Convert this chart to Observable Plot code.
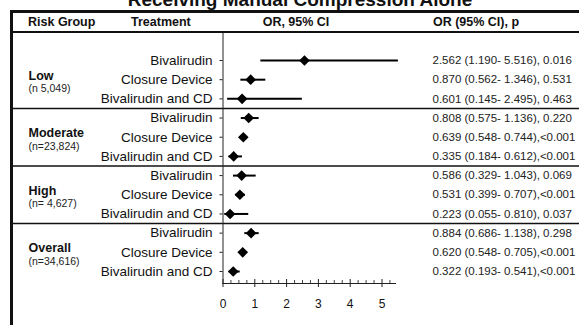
<!DOCTYPE html>
<html>
<head>
<meta charset="utf-8">
<script src="https://cdn.jsdelivr.net/npm/d3@7"></script>
<script src="https://cdn.jsdelivr.net/npm/@observablehq/plot@0.6"></script>
<style>
  html, body { margin: 0; padding: 0; background: #fff; }
  #wrap { position: relative; width: 579px; height: 325px; overflow: hidden; font-family: "Liberation Sans", Arial, sans-serif; color: #111; }
  #title { position: absolute; left: 0; width: 600px; top: -10px; text-align: center; font-weight: bold; font-size: 19px; line-height: 20px; }
  .hline { position: absolute; left: 10px; right: 0; background: #111; }
  #vline { position: absolute; left: 10px; top: 10px; bottom: 0; width: 3px; background: #111; }
  .hdr { position: absolute; top: 15px; font-weight: bold; font-size: 12.5px; line-height: 14px; white-space: nowrap; }
  #chart { position: absolute; left: 0; top: 33px; }
</style>
</head>
<body>
<div id="wrap">
  <div id="title">Receiving Manual Compression Alone</div>
  <div class="hline" style="top:10px;height:2.5px"></div>
  <div class="hline" style="top:31px;height:2px"></div>
  <div id="vline"></div>
  <div class="hdr" style="left:28px">Risk Group</div>
  <div class="hdr" style="left:131px">Treatment</div>
  <div class="hdr" style="left:296px;transform:translateX(-50%)">OR, 95% CI</div>
  <div class="hdr" style="left:476px;transform:translateX(-50%)">OR (95% CI), p</div>
  <div id="chart"></div>
</div>
<script>
const riskGroups = ["Low", "Moderate", "High", "Overall"];
const groupN = ["(n 5,049)", "(n=23,824)", "(n= 4,627)", "(n=34,616)"];
const treatments = ["Bivalirudin", "Closure Device", "Bivalirudin and CD"];
const orValues = [2.562, 0.870, 0.601, 0.808, 0.639, 0.335, 0.586, 0.531, 0.223, 0.884, 0.620, 0.322];
const ciLow    = [1.190, 0.562, 0.145, 0.575, 0.548, 0.184, 0.329, 0.399, 0.055, 0.686, 0.548, 0.193];
const ciHigh   = [5.516, 1.346, 2.495, 1.136, 0.744, 0.612, 1.043, 0.707, 0.810, 1.138, 0.705, 0.541];
const pValues  = ["0.016", "0.531", "0.463", "0.220", "<0.001", "<0.001", "0.069", "<0.001", "0.037", "0.298", "<0.001", "<0.001"];
const xTicks = [0, 1, 2, 3, 4, 5];
const xMinorTicks = [0.25, 0.5, 0.75, 1.25, 1.5, 1.75, 2.25, 2.5, 2.75, 3.25, 3.5, 3.75, 4.25, 4.5, 4.75, 5.25];

const rows = [];
riskGroups.forEach((g, gi) => {
  treatments.forEach((t, ti) => {
    const i = gi * 3 + ti;
    const p = pValues[i];
    rows.push({
      idx: i, group: g, treatment: t,
      or: orValues[i], lo: ciLow[i], hi: ciHigh[i],
      label: `${orValues[i].toFixed(3)} (${ciLow[i].toFixed(3)}- ${ciHigh[i].toFixed(3)}),${p.startsWith("<") ? p : " " + p}`
    });
  });
});
const groups = riskGroups.map((g, gi) => ({name: g, n: groupN[gi], idx: gi * 3 + 1}));
const separators = [2.5, 5.5, 8.5];

const chart = Plot.plot({
  width: 579,
  height: 292,
  marginTop: 0,
  marginBottom: 42,
  marginLeft: 222.5,
  marginRight: 184,
  style: {fontFamily: "'Liberation Sans', Arial, sans-serif", color: "#111", background: "transparent", overflow: "visible"},
  x: {domain: [0, 5], range: [222.5, 381.5], label: null},
  y: {domain: [0, 11], range: [27, 238], label: null},
  marks: [
    Plot.ruleY(separators, {insetLeft: -212.5, insetRight: -184, stroke: "#111", strokeWidth: 1.5}),
    Plot.frame({anchor: "left", stroke: "#222", strokeWidth: 1}),
    Plot.frame({anchor: "bottom", stroke: "#222", strokeWidth: 1}),
    Plot.axisY({anchor: "left", label: null, ticks: d3.range(12), tickSize: 3, tickFormat: () => "", stroke: "#222"}),
    Plot.axisX({anchor: "bottom", label: null, ticks: xTicks, tickSize: 4, tickPadding: 12, fontSize: 12, tickFormat: d => String(d), stroke: "#222"}),
    Plot.axisX({anchor: "bottom", label: null, ticks: xTicks, tickSize: -4, tickFormat: () => "", stroke: "#222"}),
    Plot.axisX({anchor: "bottom", label: null, ticks: xMinorTicks, tickSize: -3, tickFormat: () => "", stroke: "#444"}),
    Plot.ruleY(rows, {y: "idx", x1: "lo", x2: "hi", stroke: "#000", strokeWidth: 2}),
    Plot.dot(rows, {x: "or", y: "idx", symbol: "diamond2", r: 4.8, fill: "#000", stroke: "none"}),
    Plot.text(rows, {y: "idx", text: "treatment", frameAnchor: "left", textAnchor: "end", dx: -10.5, fontSize: 13.5, fill: "#111"}),
    Plot.text(rows, {y: "idx", text: "label", frameAnchor: "right", textAnchor: "start", dx: 37, fontSize: 11.5, fill: "#222"}),
    Plot.text(groups, {y: "idx", text: "name", frameAnchor: "left", textAnchor: "start", dx: -194.5, dy: -4, fontSize: 12.5, fontWeight: "bold", fill: "#111"}),
    Plot.text(groups, {y: "idx", text: "n", frameAnchor: "left", textAnchor: "start", dx: -194.5, dy: 9, fontSize: 10.5, fill: "#222"})
  ]
});
document.getElementById("chart").appendChild(chart);
</script>
</body>
</html>
